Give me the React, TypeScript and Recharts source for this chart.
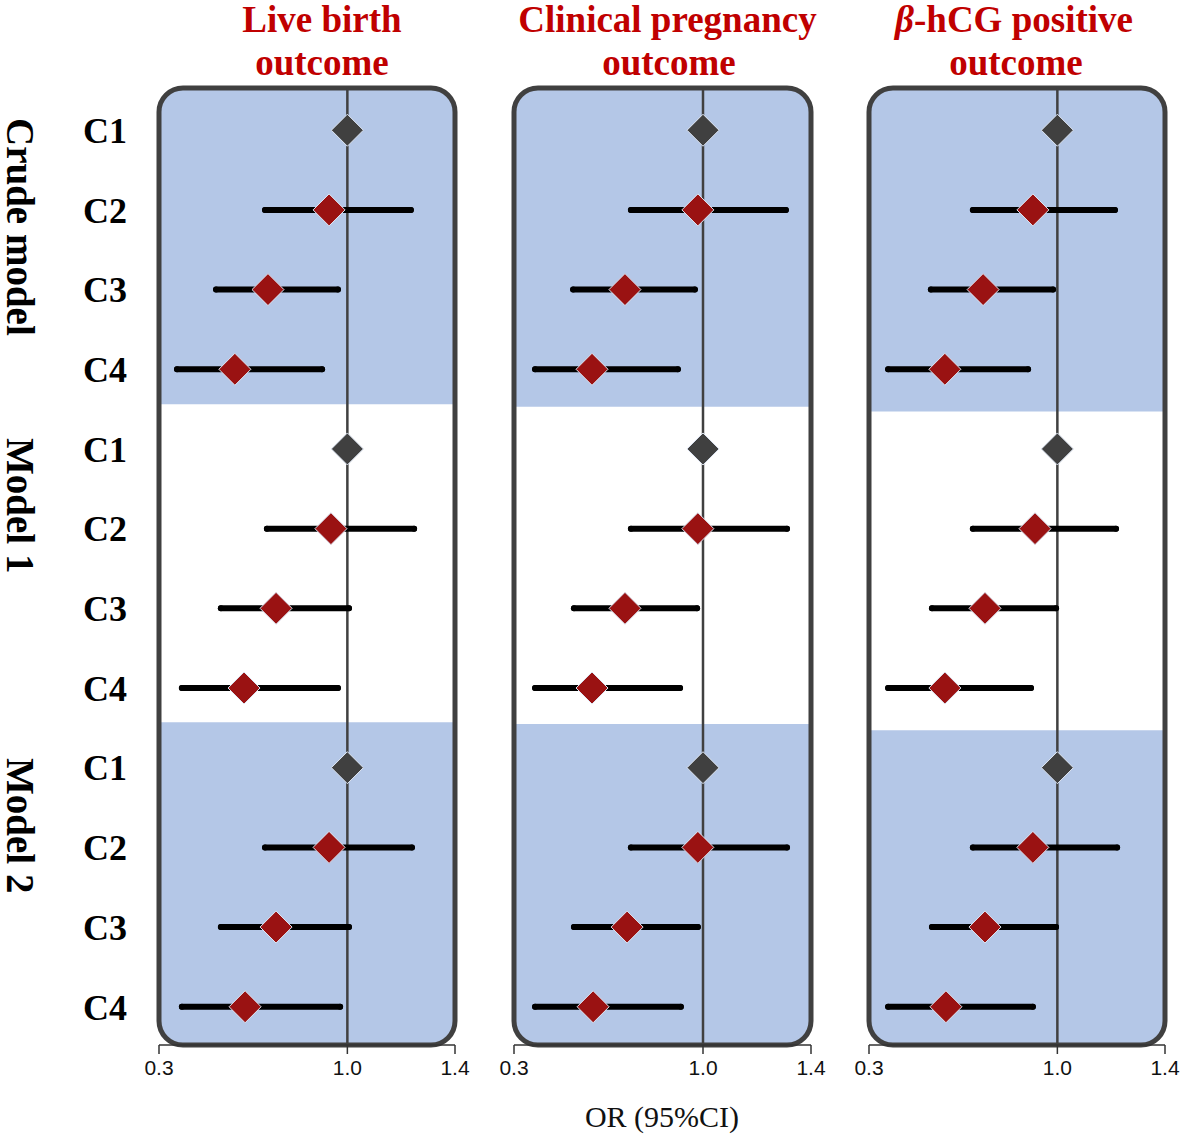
import React from 'react';
import { ScatterChart, Scatter, XAxis, YAxis, ReferenceArea, ReferenceLine, ErrorBar } from 'recharts';

// ---------- data ----------
const rowLabels = ['C1', 'C2', 'C3', 'C4', 'C1', 'C2', 'C3', 'C4', 'C1', 'C2', 'C3', 'C4'];
const groupLabels = ['Crude model', 'Model 1', 'Model 2'];
const xTicks = [0.3, 1.0, 1.4];
const axisTitle = 'OR (95%CI)';

const liveBirthOR = [1.0, 0.932, 0.705, 0.582, 1.0, 0.939, 0.735, 0.616, 1.0, 0.932, 0.735, 0.62];
const liveBirthLow = [1.0, 0.694, 0.512, 0.367, 1.0, 0.701, 0.53, 0.385, 1.0, 0.694, 0.53, 0.385];
const liveBirthHigh = [1.0, 1.236, 0.965, 0.906, 1.0, 1.248, 1.006, 0.965, 1.0, 1.24, 1.006, 0.973];

const clinicalOR = [1.0, 0.981, 0.711, 0.589, 1.0, 0.981, 0.711, 0.589, 1.0, 0.981, 0.719, 0.593];
const clinicalLow = [1.0, 0.733, 0.519, 0.378, 1.0, 0.733, 0.522, 0.378, 1.0, 0.733, 0.522, 0.378];
const clinicalHigh = [1.0, 1.307, 0.97, 0.907, 1.0, 1.311, 0.978, 0.915, 1.0, 1.311, 0.981, 0.918];

const hcgOR = [1.0, 0.909, 0.724, 0.582, 1.0, 0.917, 0.731, 0.582, 1.0, 0.909, 0.731, 0.586];
const hcgLow = [1.0, 0.686, 0.53, 0.371, 1.0, 0.686, 0.534, 0.371, 1.0, 0.686, 0.534, 0.371];
const hcgHigh = [1.0, 1.214, 0.984, 0.891, 1.0, 1.218, 0.995, 0.902, 1.0, 1.222, 0.995, 0.909];

// shaded bands (row units) per panel
const liveBirthBands = [[0.47, 4.44], [8.43, 12.48]];
const clinicalBands = [[0.47, 4.47], [8.45, 12.48]];
const hcgBands = [[0.47, 4.53], [8.53, 12.48]];

const Y_DOMAIN = [0.47, 12.48];
const rowTicks = rowLabels.map((_, i) => i + 1);

const build = (or: number[], lo: number[], hi: number[]) =>
  or.map((v, i) => ({
    row: i + 1,
    or: v,
    err: [v - lo[i], hi[i] - v],
    ref: i % 4 === 0,
  }));

// ---------- styling ----------
const BLUE = '#B4C7E7';
const FRAME = '#404040';
const RED = '#9A1212';
const TITLE_RED = '#C00000';
const SERIF = '"Liberation Serif", "Times New Roman", serif';
const SANS = '"Liberation Sans", Arial, sans-serif';
const R = 24;

const Diamond = (props: any) => {
  const { cx, cy, payload } = props;
  if (cx == null || cy == null) return null;
  const s = 16;
  const fill = payload && payload.ref ? FRAME : RED;
  return (
    <polygon
      points={`${cx},${cy - s} ${cx + s},${cy} ${cx},${cy + s} ${cx - s},${cy}`}
      fill={fill}
      stroke="#dfe7f4"
      strokeWidth={1}
    />
  );
};

const XTick = (props: any) => {
  const { x, y, payload } = props;
  return (
    <text x={x} y={y} dy={17} textAnchor="middle" fontSize={21} fontFamily={SANS} fill="#111">
      {Number(payload.value).toFixed(1)}
    </text>
  );
};

const TopBand = (props: any) => {
  const { x, y, width: w, height: h } = props;
  const d = `M${x},${y + h} L${x},${y + R} A${R},${R} 0 0 1 ${x + R},${y} L${x + w - R},${y} A${R},${R} 0 0 1 ${x + w},${y + R} L${x + w},${y + h} Z`;
  return <path d={d} fill={BLUE} stroke="none" />;
};

const BottomBand = (props: any) => {
  const { x, y, width: w, height: h } = props;
  const d = `M${x},${y} L${x + w},${y} L${x + w},${y + h - R} A${R},${R} 0 0 1 ${x + w - R},${y + h} L${x + R},${y + h} A${R},${R} 0 0 1 ${x},${y + h - R} Z`;
  return <path d={d} fill={BLUE} stroke="none" />;
};

const Frame = (props: any) => {
  const { x, y, width: w, height: h } = props;
  return <rect x={x} y={y} width={w} height={h} rx={R} ry={R} fill="none" stroke={FRAME} strokeWidth={5} />;
};

type PanelProps = {
  data: any[];
  bands: number[][];
  left: number;
  width: number;
  marginLeft: number;
  marginRight: number;
  showY: boolean;
};

const Panel = ({ data, bands, left, width, marginLeft, marginRight, showY }: PanelProps) => (
  <div style={{ position: 'absolute', left, top: 0 }}>
    <ScatterChart
      width={width}
      height={1090}
      margin={{ top: 88, right: marginRight, bottom: 0, left: marginLeft }}
    >
      <XAxis
        type="number"
        dataKey="or"
        domain={[0.3, 1.4]}
        ticks={xTicks}
        allowDataOverflow
        tickSize={9}
        tickMargin={4}
        height={45}
        axisLine={{ stroke: '#333', strokeWidth: 1.5 }}
        tickLine={{ stroke: '#333', strokeWidth: 1.5 }}
        tick={<XTick />}
      />
      <YAxis
        type="number"
        dataKey="row"
        domain={Y_DOMAIN}
        reversed
        allowDataOverflow
        ticks={rowTicks}
        hide={!showY}
        width={showY ? 159 : 0}
        axisLine={false}
        tickLine={false}
        tickSize={0}
        tickMargin={32}
        tickFormatter={(v: number) => rowLabels[v - 1] || ''}
        tick={{ fill: '#000', fontSize: 36, fontFamily: SERIF, fontWeight: 'bold' }}
      />
      <ReferenceArea x1={0.3} x2={1.4} y1={bands[0][0]} y2={bands[0][1]} shape={TopBand} />
      <ReferenceArea x1={0.3} x2={1.4} y1={bands[1][0]} y2={bands[1][1]} shape={BottomBand} />
      <ReferenceLine x={1.0} stroke={FRAME} strokeWidth={2.5} />
      <ReferenceArea x1={0.3} x2={1.4} y1={Y_DOMAIN[0]} y2={Y_DOMAIN[1]} shape={Frame} />
      <Scatter data={data} shape={Diamond} isAnimationActive={false}>
        <ErrorBar
          dataKey="err"
          direction="x"
          width={0}
          stroke="#000"
          strokeWidth={6}
          strokeLinecap="round"
          isAnimationActive={false}
        />
      </Scatter>
    </ScatterChart>
  </div>
);

export default function App() {
  const lb = build(liveBirthOR, liveBirthLow, liveBirthHigh);
  const cp = build(clinicalOR, clinicalLow, clinicalHigh);
  const hc = build(hcgOR, hcgLow, hcgHigh);
  return (
    <div style={{ position: 'absolute', left: 0, top: 0, width: 1180, height: 1136, overflow: 'hidden', background: '#fff' }}>
      <Panel data={lb} bands={liveBirthBands} left={0} width={470} marginLeft={0} marginRight={15} showY />
      <Panel data={cp} bands={clinicalBands} left={494} width={340} marginLeft={20} marginRight={23} showY={false} />
      <Panel data={hc} bands={hcgBands} left={849} width={331} marginLeft={20} marginRight={15} showY={false} />
      <svg
        width={1180}
        height={1136}
        style={{ position: 'absolute', left: 0, top: 0, pointerEvents: 'none' }}
      >
        <g fontFamily={SERIF} fontWeight="bold" fontSize={37} fill={TITLE_RED} textAnchor="middle">
          <text x={322} y={32}>Live birth</text>
          <text x={322} y={75}>outcome</text>
          <text x={667.5} y={32}>Clinical pregnancy</text>
          <text x={669} y={75}>outcome</text>
          <text x={1014} y={32}>
            <tspan fontStyle="italic">β</tspan>-hCG positive
          </text>
          <text x={1016} y={75}>outcome</text>
        </g>
        <g fontFamily={SERIF} fontWeight="bold" fontSize={39} fill="#000">
          <text transform="translate(7,118) rotate(90)">{groupLabels[0]}</text>
          <text transform="translate(7,438) rotate(90)">{groupLabels[1]}</text>
          <text transform="translate(7,758) rotate(90)">{groupLabels[2]}</text>
        </g>
        <text x={662} y={1127} fontFamily={SERIF} fontSize={30} fill="#111" textAnchor="middle">
          {axisTitle}
        </text>
      </svg>
    </div>
  );
}
